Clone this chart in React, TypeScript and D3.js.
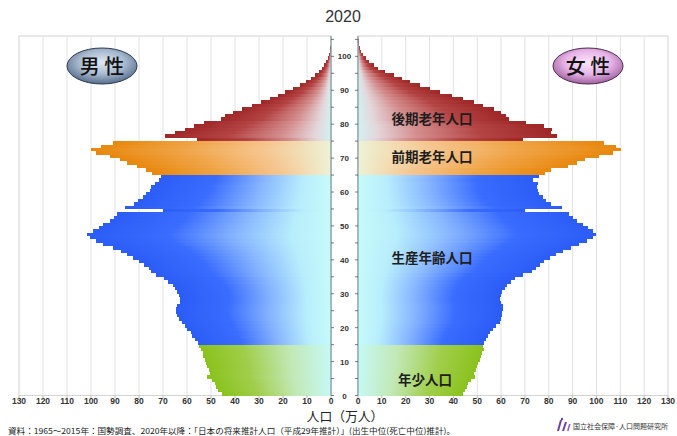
import React from 'react';
import * as d3 from 'd3';

const ages: number[] = d3.range(0, 106);

const maleValues: number[] = [
  45.5, 47, 48, 48.5, 49.5, 51.5, 50.5, 51, 51.5, 52,
  52.5, 53.5, 53.5, 54, 55, 55.5, 56.5, 58, 58.5, 60,
  61, 62, 63.5, 64, 64.5, 64.5, 64, 63, 63, 63.5,
  64, 65, 66, 68, 69.5, 73, 75, 76, 78, 80,
  82.5, 85, 87.5, 91, 95, 98, 100.5, 101.5, 99, 96.5,
  95, 92, 90.5, 89, 70, 86, 82, 80.5, 78.5, 77,
  75.5, 75, 73.5, 71.5, 71, 74.5, 77, 81, 85, 88,
  92, 98, 100, 96, 91, 56, 69, 65, 61, 57,
  53, 46, 44, 41, 37, 33, 29, 25.5, 22, 19,
  16, 13, 10.5, 8.5, 6.5, 5, 3.8, 2.8, 2, 1.3,
  0.8, 0.5, 0.3, 0.2, 0.1, 0.05,
];

const femaleValues: number[] = [
  44, 45, 45.6, 46.3, 47.5, 49, 48.5, 49.5, 50, 50.5,
  51, 51.5, 52, 52.8, 52.5, 53, 53.5, 54.5, 55.5, 56.5,
  58, 59.5, 60, 60.5, 60.5, 61, 61, 60, 59.5, 60,
  60.5, 61.5, 62.5, 64, 66, 69, 73, 74.5, 76.5, 78,
  80.5, 83, 86, 89.5, 92.5, 96, 98.5, 100, 98.5, 96.5,
  94.5, 92, 90, 88.5, 70, 85.5, 81, 79, 77.5, 76,
  75.5, 75, 75.5, 73.5, 76, 78.5, 81, 88, 92, 95,
  101, 107, 110.3, 108, 103, 69, 83.5, 81, 81.5, 78,
  70.5, 63.5, 62, 60, 57, 52.5, 48.5, 44, 39.5, 34.5,
  30, 26, 22, 18.5, 15, 11.5, 8.5, 6.5, 4.8, 3.4,
  2.2, 1.4, 0.9, 0.5, 0.3, 0.15,
];

const xTickValues: number[] = d3.range(0, 131, 10);
const ageTickValues: number[] = d3.range(0, 101, 10);
const ageMinorTicks: number[] = d3.range(0, 106, 5);

const groupNames = ['young', 'working', 'early', 'late'];
const groupLabels = ['年少人口', '生産年齢人口', '前期老年人口', '後期老年人口'];
const groupLabelAges = [4.5, 40.5, 70.3, 81.4];
const groupStarts = [0, 15, 65, 75];

const title = '2020';
const axisTitle = '人口（万人）';
const sourceText = '資料：1965～2015年：国勢調査、2020年以降：「日本の将来推計人口（平成29年推計）」(出生中位(死亡中位)推計)。';
const logoText = '国立社会保障·人口問題研究所';

const gradStops: Record<string, [number, string][]> = {
  young: [[0, '#8ac21c'], [0.33, '#a0ce4a'], [0.68, '#c2e8b4'], [1, '#c6f9f5']],
  working: [[0, '#2b5cf6'], [0.33, '#3a6cff'], [0.62, '#8ab8ff'], [0.84, '#b8eefc'], [1, '#c6fafa']],
  early: [[0, '#e8870c'], [0.38, '#f0a447'], [0.72, '#f6c690'], [1, '#eef2d6']],
  late: [[0, '#9e2626'], [0.38, '#b44444'], [0.7, '#d48e8e'], [0.9, '#e4d6da'], [1, '#d4f0f0']],
};

function groupOf(a: number): string {
  let g = 0;
  groupStarts.forEach((s, i) => { if (a >= s) g = i; });
  return groupNames[g];
}

const W = 677;
const H = 436;
const top = 36;
const bottom = 395.5;

const y = d3.scaleLinear().domain([0, 106]).range([bottom, top]);
const xL = d3.scaleLinear().domain([0, 130]).range([331, 19]);
const xR = d3.scaleLinear().domain([0, 130]).range([358, 668]);

const cjk = '"Noto Sans CJK JP", "Noto Sans", sans-serif';
const latin = '"Liberation Sans", Arial, sans-serif';

export default function App() {
  const gridVals = d3.range(10, 130, 10);
  return (
    <svg width={W} height={H} style={{ position: 'absolute', left: 0, top: 0, background: '#fff' }}>
      <defs>
        {groupNames.map((g) => (
          <React.Fragment key={g}>
            <linearGradient id={`gL-${g}`} x1="0" y1="0" x2="1" y2="0">
              {gradStops[g].map(([o, c], i) => <stop key={i} offset={o} stopColor={c} />)}
            </linearGradient>
            <linearGradient id={`gR-${g}`} x1="1" y1="0" x2="0" y2="0">
              {gradStops[g].map(([o, c], i) => <stop key={i} offset={o} stopColor={c} />)}
            </linearGradient>
          </React.Fragment>
        ))}
        <radialGradient id="badgeM" cx="0.5" cy="0.4" r="0.6">
          <stop offset="0" stopColor="#dfe8f3" />
          <stop offset="0.55" stopColor="#a7b9cf" />
          <stop offset="1" stopColor="#566d8c" />
        </radialGradient>
        <radialGradient id="badgeF" cx="0.5" cy="0.4" r="0.6">
          <stop offset="0" stopColor="#fbe6fb" />
          <stop offset="0.55" stopColor="#e7b4e7" />
          <stop offset="1" stopColor="#a0609f" />
        </radialGradient>
      </defs>

      <text x={343} y={22} textAnchor="middle" fontSize={16} fill="#333" fontFamily={latin}>{title}</text>

      {[xL, xR].map((sc, si) => (
        <g key={si}>
          <rect x={Math.min(sc(0), sc(130))} y={top} width={Math.abs(sc(130) - sc(0))} height={bottom - top} fill="#fff" stroke="#d4d4d4" strokeWidth={1} />
          {gridVals.map((v) => (
            <line key={v} x1={sc(v)} x2={sc(v)} y1={top} y2={bottom} stroke="#e2e2e2" strokeWidth={1} />
          ))}
        </g>
      ))}

      <g shapeRendering="crispEdges">
        {ages.map((a) => {
          const v = maleValues[a];
          return (
            <rect key={`m${a}`} x={xL(v)} y={y(a + 1)} width={xL(0) - xL(v)} height={y(a) - y(a + 1)}
              fill={`url(#gL-${groupOf(a)})`} />
          );
        })}
        {ages.map((a) => {
          const v = femaleValues[a];
          return (
            <rect key={`f${a}`} x={xR(0)} y={y(a + 1)} width={xR(v) - xR(0)} height={y(a) - y(a + 1)}
              fill={`url(#gR-${groupOf(a)})`} />
          );
        })}
      </g>

      <line x1={331} x2={331} y1={top} y2={bottom} stroke="#7b979d" strokeWidth={1.2} />
      <line x1={358} x2={358} y1={top} y2={bottom} stroke="#7b979d" strokeWidth={1.2} />
      {ageMinorTicks.map((a) => (
        <g key={a}>
          <line x1={331} x2={334} y1={y(a)} y2={y(a)} stroke="#556" strokeWidth={0.8} />
          <line x1={355} x2={358} y1={y(a)} y2={y(a)} stroke="#556" strokeWidth={0.8} />
        </g>
      ))}
      {ageTickValues.map((a) => (
        <text key={a} x={344.5} y={y(a) + 3} textAnchor="middle" fontSize={8} fontWeight="bold" fill="#333" fontFamily={latin}>{a}</text>
      ))}

      {xTickValues.map((t) => (
        <g key={t}>
          <line x1={xL(t)} x2={xL(t)} y1={bottom} y2={bottom + 2.5} stroke="#aaa" strokeWidth={0.8} />
          <line x1={xR(t)} x2={xR(t)} y1={bottom} y2={bottom + 2.5} stroke="#aaa" strokeWidth={0.8} />
          <text x={xL(t)} y={404} textAnchor="middle" fontSize={8.5} fontWeight="bold" fill="#333" fontFamily={latin}>{t}</text>
          <text x={xR(t)} y={404} textAnchor="middle" fontSize={8.5} fontWeight="bold" fill="#333" fontFamily={latin}>{t}</text>
        </g>
      ))}

      {groupLabels.map((g, i) => (
        <text key={g} x={i === 0 ? 425 : 432} y={y(groupLabelAges[i]) + 5} textAnchor="middle" fontSize={13.5}
          fontWeight="bold" fill="#1e1e1e" fontFamily={cjk}>{g}</text>
      ))}

      <ellipse cx={102} cy={66} rx={35} ry={18} fill="url(#badgeM)" stroke="#2e3b4c" strokeWidth={1} />
      <text x={102} y={73.5} textAnchor="middle" fontSize={20} fill="#111" fontFamily={cjk} fontWeight="500">男 性</text>
      <ellipse cx={588} cy={66} rx={35} ry={18} fill="url(#badgeF)" stroke="#4a2c4a" strokeWidth={1} />
      <text x={588} y={73.5} textAnchor="middle" fontSize={20} fill="#111" fontFamily={cjk} fontWeight="500">女 性</text>

      <text x={345} y={421} textAnchor="middle" fontSize={12.8} fill="#222" fontFamily={cjk}>{axisTitle}</text>

      <text x={8} y={433.7} fontSize={8.2} fill="#222" fontFamily={cjk} textLength={447} lengthAdjust="spacingAndGlyphs">{sourceText}</text>

      <g transform="translate(556,418)">
        <path d="M4 2 L1 13 L3 13 L6 2 Z" fill="#6b3fa0" />
        <path d="M9 4 L6 13 L8 13 L11 4 Z" fill="#6b3fa0" />
        <path d="M13 6 L11 13 L12.6 13 L14.6 6 Z" fill="#8a62b8" />
        <circle cx={6} cy={1} r={1.2} fill="#6b3fa0" />
      </g>
      <text x={573} y={429} fontSize={7} fill="#333" fontFamily={cjk} textLength={95} lengthAdjust="spacingAndGlyphs">{logoText}</text>
    </svg>
  );
}
